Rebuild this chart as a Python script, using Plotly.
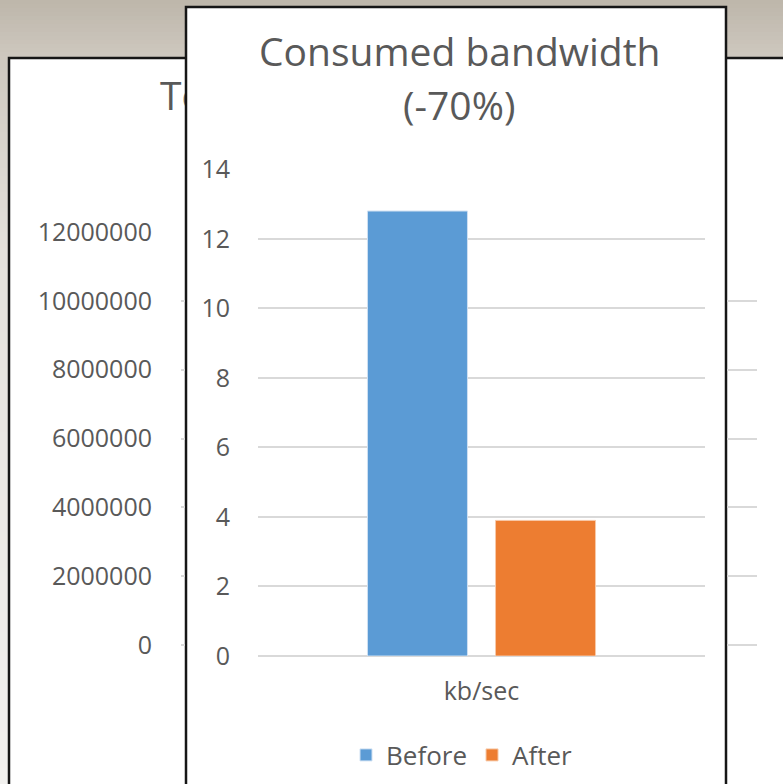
import plotly.graph_objects as go

# ---------------- data ----------------
categories = ["kb/sec"]
series_names = ["Before", "After"]
before = [12.8]
after = [3.9]
series_colors = ["#5B9BD5", "#ED7D31"]
front_title_lines = ["Consumed bandwidth", "(-70%)"]
back_title = "Total traffic"
back_tick_vals = [0, 2000000, 4000000, 6000000, 8000000, 10000000, 12000000]

W, H = 783, 784
FONT = "Open Sans"
GREY = "#595959"
GRID = "#d9d9d9"


def fx(px):
    return px / W


def fy(py):
    return 1 - py / H


fig = go.Figure()

fig.add_trace(go.Bar(name=series_names[0], x=categories, y=before,
                     marker=dict(color=series_colors[0], line=dict(color="#cfe0f2", width=1)),
                     xaxis="x", yaxis="y", hoverinfo="skip"))
fig.add_trace(go.Bar(name=series_names[1], x=categories, y=after,
                     marker=dict(color=series_colors[1], line=dict(color="#f7c9a8", width=1)),
                     xaxis="x", yaxis="y", hoverinfo="skip"))

# background chart stubs (peeking out beside the front panel)
fig.add_trace(go.Scatter(x=[None], y=[None], xaxis="x2", yaxis="y2",
                         showlegend=False, hoverinfo="skip"))
fig.add_trace(go.Scatter(x=[None], y=[None], xaxis="x3", yaxis="y3",
                         showlegend=False, hoverinfo="skip"))
# background chart title, clipped by the front panel
fig.add_trace(go.Scatter(x=[160], y=[0.5], xaxis="x4", yaxis="y4", mode="text",
                         text=[back_title], textposition="middle right",
                         textfont=dict(family=FONT, size=39, color=GREY),
                         cliponaxis=True, showlegend=False, hoverinfo="skip"))

# ---------------- decorative shapes ----------------
shapes = []
stops = [(0, (189, 182, 170)), (57, (206, 200, 191)), (250, (228, 225, 220)), (784, (242, 241, 239))]


def col_at(y):
    for (y0, c0), (y1, c1) in zip(stops[:-1], stops[1:]):
        if y0 <= y <= y1:
            t = (y - y0) / (y1 - y0)
            return "rgb(%d,%d,%d)" % tuple(round(a + (b - a) * t) for a, b in zip(c0, c1))
    return "rgb(%d,%d,%d)" % stops[-1][1]


band = 4
for yb in range(0, H, band):
    shapes.append(dict(type="rect", xref="paper", yref="paper", layer="below",
                       x0=0, x1=1, y0=fy(yb + band + 1.5), y1=fy(yb),
                       fillcolor=col_at(yb + band / 2), line=dict(width=0)))

# back panel
shapes.append(dict(type="rect", xref="paper", yref="paper", layer="below",
                   x0=fx(9), x1=fx(820), y0=fy(830), y1=fy(58),
                   fillcolor="white", line=dict(color="#161616", width=2.5)))
# front panel
shapes.append(dict(type="rect", xref="paper", yref="paper", layer="below",
                   x0=fx(186), x1=fx(726), y0=fy(830), y1=fy(7),
                   fillcolor="white", line=dict(color="#161616", width=2.5)))

annotations = [
    dict(text=front_title_lines[0], x=fx(460), y=fy(50), xref="paper", yref="paper",
         xanchor="center", yanchor="middle", showarrow=False,
         font=dict(family=FONT, size=39, color=GREY)),
    dict(text=front_title_lines[1], x=fx(459), y=fy(104), xref="paper", yref="paper",
         xanchor="center", yanchor="middle", showarrow=False,
         font=dict(family=FONT, size=39, color=GREY)),
]

fig.update_layout(
    width=W, height=H,
    margin=dict(l=0, r=0, t=0, b=0, autoexpand=False),
    paper_bgcolor="white",
    plot_bgcolor="rgba(0,0,0,0)",
    shapes=shapes,
    annotations=annotations,
    barmode="group",
    bargap=0.427,
    bargroupgap=0.219,
    font=dict(family=FONT, color=GREY),
    showlegend=True,
    legend=dict(orientation="h", x=fx(462), xanchor="center", y=fy(755), yanchor="middle",
                font=dict(family=FONT, size=26, color=GREY), bgcolor="rgba(0,0,0,0)",
                traceorder="normal"),
    xaxis=dict(domain=[fx(258), fx(705)], anchor="y", type="category",
               showgrid=False, showline=False, zeroline=False,
               ticks="outside", ticklen=13, tickcolor="rgba(0,0,0,0)",
               tickfont=dict(family=FONT, size=25, color=GREY)),
    yaxis=dict(domain=[fy(656), fy(169.3)], anchor="x", range=[0, 14], dtick=2,
               showgrid=True, gridcolor=GRID, gridwidth=2,
               zeroline=True, zerolinecolor=GRID, zerolinewidth=2, showline=False,
               ticks="outside", ticklen=22, tickcolor="rgba(0,0,0,0)",
               tickfont=dict(family=FONT, size=25, color=GREY)),
    xaxis2=dict(domain=[fx(181), fx(185)], anchor="y2", range=[0, 1], visible=False),
    yaxis2=dict(domain=[fy(645), fy(232)], anchor="x2", range=[0, 12000000],
                tickvals=back_tick_vals, tickformat="d",
                showgrid=True, gridcolor=GRID, gridwidth=2,
                zeroline=True, zerolinecolor=GRID, zerolinewidth=2, showline=False,
                ticks="outside", ticklen=23, tickcolor="rgba(0,0,0,0)",
                tickfont=dict(family=FONT, size=25, color=GREY)),
    xaxis3=dict(domain=[fx(727), fx(757)], anchor="y3", range=[0, 1], visible=False),
    yaxis3=dict(domain=[fy(645), fy(232)], anchor="x3", range=[0, 12000000],
                tickvals=back_tick_vals, showticklabels=False,
                showgrid=True, gridcolor=GRID, gridwidth=2,
                zeroline=True, zerolinecolor=GRID, zerolinewidth=2, showline=False),
    xaxis4=dict(domain=[fx(11), fx(185)], anchor="y4", range=[11, 185], visible=False),
    yaxis4=dict(domain=[fy(130), fy(70)], anchor="x4", range=[0, 1], visible=False),
)

fig.write_html("out.html")
